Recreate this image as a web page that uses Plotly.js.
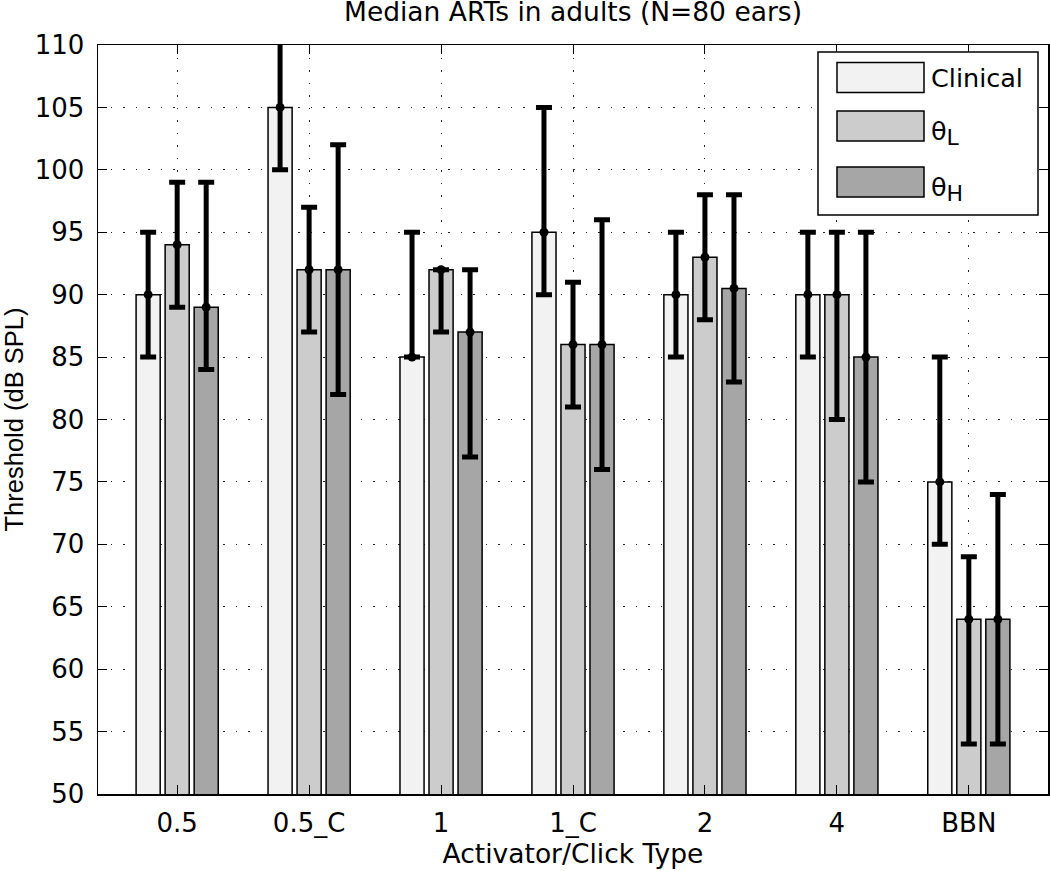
<!DOCTYPE html>
<html>
<head>
<meta charset="utf-8">
<script src="https://cdn.plot.ly/plotly-3.0.1.min.js"></script>
<style>
  html, body { margin: 0; padding: 0; background: #ffffff; }
  #artplot { width: 1050px; height: 871px; }
</style>
</head>
<body>
<div id="artplot"></div>
<script>
// Median ARTs in adults
let categories = ["0.5", "0.5_C", "1", "1_C", "2", "4", "BBN"];

let clinical      = [90, 105, 85, 95, 90, 90, 75];
let clinical_up   = [5, 10, 10, 10, 5, 5, 10];
let clinical_down = [5, 5, 0, 5, 5, 5, 5];

let thetaL      = [94, 92, 92, 86, 93, 90, 64];
let thetaL_up   = [5, 5, 0, 5, 5, 5, 5];
let thetaL_down = [5, 5, 5, 5, 5, 10, 10];

let thetaH      = [89, 92, 87, 86, 90.5, 85, 64];
let thetaH_up   = [10, 10, 5, 10, 7.5, 10, 10];
let thetaH_down = [5, 10, 10, 10, 7.5, 10, 10];

let seriesNames  = ["Clinical",
                    "θ<sub><span style='font-size:22px'>L</span></sub>",
                    "θ<sub><span style='font-size:22px'>H</span></sub>"];
let seriesColors = ["#f2f2f2", "#cccccc", "#a6a6a6"];

// the original is a bit wider than Helvetica, DejaVu Sans gets close
let fontFamily = "DejaVu Sans, Liberation Sans, Arial, sans-serif";
let narrowFamily = "Liberation Sans, Arial, Helvetica, sans-serif";

// plot area in pixels (used for the hand drawn legend box)
let plotLeft = 98, plotRight = 1048, plotTop = 45, plotBottom = 794;
function px2paperX(px) { return (px - plotLeft) / (plotRight - plotLeft); }
function px2paperY(py) { return (plotBottom - py) / (plotBottom - plotTop); }

function barTrace(values, i) {
  return {
    x: categories,
    y: values,
    type: "bar",
    showlegend: false,
    hoverinfo: "skip",
    marker: {
      color: seriesColors[i],
      line: {color: "#000000", width: 1.5}
    }
  };
}

function errTrace(values, up, down) {
  return {
    x: categories,
    y: values,
    type: "scatter",
    mode: "markers",
    showlegend: false,
    hoverinfo: "skip",
    marker: {color: "#000000", size: 9},
    error_y: {
      type: "data",
      symmetric: false,
      array: up,
      arrayminus: down,
      color: "#000000",
      thickness: 5,
      width: 8
    }
  };
}

let plot_data = [
  barTrace(clinical, 0), barTrace(thetaL, 1), barTrace(thetaH, 2),
  errTrace(clinical, clinical_up, clinical_down),
  errTrace(thetaL, thetaL_up, thetaL_down),
  errTrace(thetaH, thetaH_up, thetaH_down)
];

// legend drawn as shapes + annotations to get the wide swatches
let legendRows = [77.5, 126, 182];
let shapes = [{
  type: "rect", xref: "paper", yref: "paper",
  x0: px2paperX(818), x1: px2paperX(1038),
  y0: px2paperY(215), y1: px2paperY(52),
  fillcolor: "#ffffff", line: {color: "#000000", width: 1.5}
}];
let annotations = [];
legendRows.forEach(function(cy, i) {
  shapes.push({
    type: "rect", xref: "paper", yref: "paper",
    x0: px2paperX(837), x1: px2paperX(924),
    y0: px2paperY(cy + 15), y1: px2paperY(cy - 15),
    fillcolor: seriesColors[i], line: {color: "#000000", width: 1.5}
  });
  annotations.push({
    xref: "paper", yref: "paper",
    x: px2paperX(929), y: px2paperY(i === 0 ? cy + 1 : cy + 7),
    xanchor: "left", yanchor: "middle",
    text: seriesNames[i], showarrow: false,
    font: {family: fontFamily, size: 25.5, color: "#000000"}
  });
});

let layout = {
  width: 1050,
  height: 871,
  margin: {l: plotLeft, r: 1050 - plotRight, t: plotTop, b: 871 - plotBottom},
  paper_bgcolor: "#ffffff",
  plot_bgcolor: "#ffffff",
  font: {family: fontFamily, size: 26, color: "#000000"},
  title: {
    text: "Median ARTs in adults (N=80 ears)",
    font: {size: 26.5},
    x: (plotLeft + plotRight) / 2 / 1050,
    xanchor: "center",
    y: 0.997,
    yanchor: "top"
  },
  barmode: "group",
  bargap: 0.34,
  bargroupgap: 0.17,
  scattermode: "group",
  scattergap: 0.34,
  xaxis: {
    type: "category",
    range: [-0.6, 6.6],
    showline: true, linecolor: "#000000", linewidth: 1.5, mirror: "ticks",
    ticks: "inside", ticklen: 9, tickcolor: "#000000",
    showgrid: true, gridcolor: "#222222", gridwidth: 1, griddash: "1.5px,11px",
    ticklabelstandoff: 5,
    title: {text: "Activator/Click Type", standoff: 2, font: {size: 26.5}},
    zeroline: false
  },
  yaxis: {
    range: [50, 110],
    dtick: 5,
    tick0: 50,
    showline: true, linecolor: "#000000", linewidth: 1.5, mirror: "ticks",
    ticks: "inside", ticklen: 9, tickcolor: "#000000",
    showgrid: true, gridcolor: "#222222", gridwidth: 1, griddash: "1.5px,11px",
    ticklabelstandoff: 7,
    title: {text: "Threshold (dB SPL)", standoff: 12,
            font: {family: narrowFamily, size: 25.5}},
    zeroline: false
  },
  shapes: shapes,
  annotations: annotations,
  showlegend: false
};

let config = {displayModeBar: false, staticPlot: true};
Plotly.newPlot("artplot", plot_data, layout, config);
</script>
</body>
</html>
